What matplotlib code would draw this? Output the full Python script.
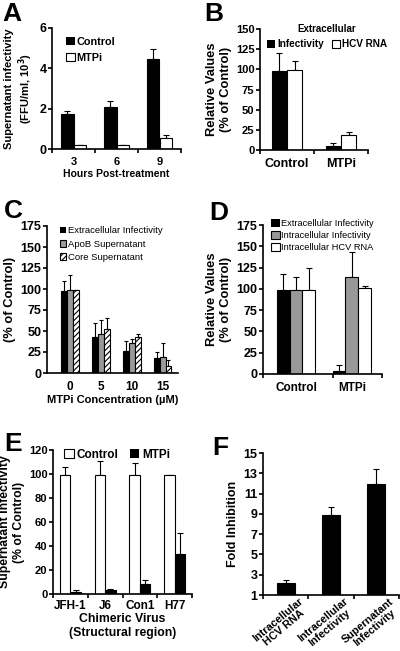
import matplotlib
matplotlib.use("Agg")
import matplotlib.pyplot as plt
import matplotlib.transforms as mtrans
import numpy as np

plt.rcParams['font.family'] = ['Liberation Sans', 'DejaVu Sans']
plt.rcParams['font.weight'] = 'bold'
plt.rcParams['axes.labelweight'] = 'bold'
plt.rcParams['hatch.linewidth'] = 0.8

# A
a_hours = ['3', '6', '9']
a_ctrl = [1.75, 2.1, 4.45]
a_ctrl_err = [0.15, 0.3, 0.5]
a_mtp = [0.2, 0.2, 0.55]
a_mtp_err = [0.02, 0.02, 0.15]

# B
b_groups = ['Control', 'MTPi']
b_inf = [98, 5]
b_inf_err = [22, 4]
b_rna = [99, 19]
b_rna_err = [11, 3]

# C
c_conc = ['0', '5', '10', '15']
c_inf = [98, 43, 26, 18]
c_inf_err = [12, 16, 12, 7]
c_apob = [99, 46, 36, 19]
c_apob_err = [18, 17, 4, 17]
c_core = [99, 52, 43, 8]
c_core_err = [0, 14, 3, 7]

# D
d_groups = ['Control', 'MTPi']
d_ext = [99, 4]
d_ext_err = [18, 6]
d_intinf = [99, 114]
d_intinf_err = [15, 29]
d_intrna = [99, 101]
d_intrna_err = [26, 2]

# E
e_virus = ['JFH-1', 'J6', 'Con1', 'H77']
e_ctrl = [99, 99, 99, 99]
e_ctrl_err = [7, 12, 10, 0.5]
e_mtp = [1.5, 3.5, 8, 33]
e_mtp_err = [1.5, 0.5, 4, 18]

# F
f_labels = ['Intracellular\nHCV RNA', 'Intracellular\nInfectivity', 'Supernatant\nInfectivity']
f_vals = [2.2, 8.9, 11.9]
f_err = [0.25, 0.75, 1.5]

W, H = 400, 651
fig = plt.figure(figsize=(W / 100, H / 100), dpi=100)


def make_ax(l, r, t, b):
    ax = fig.add_axes([l / W, 1 - b / H, (r - l) / W, (b - t) / H])
    for s in ['top', 'right']:
        ax.spines[s].set_visible(False)
    for s in ['left', 'bottom']:
        ax.spines[s].set_linewidth(1.2)
    ax.tick_params(axis='y', labelsize=8, width=1.2, length=3, pad=1)
    ax.tick_params(axis='x', which='both', labelsize=8, width=1.2, length=3)
    return ax


def cat_ticks(ax, n, lo=-0.5, hi=None):
    if hi is None:
        hi = n - 0.5
    ax.set_xlim(lo, hi)
    ax.set_xticks(np.arange(n))
    ax.tick_params(axis='x', which='major', length=0, pad=6)
    ax.set_xticks(np.arange(n + 1) - 0.5, minor=True)


def bars(ax, x, vals, err, w, color, hatch=None, cap=2, bottom=0):
    vals = np.asarray(vals, dtype=float)
    ax.bar(x, vals - bottom, w, bottom=bottom, color=color, edgecolor='black',
           linewidth=0.8, hatch=hatch, zorder=2)
    ax.errorbar(x, vals, yerr=[np.zeros(len(vals)), err], fmt='none', ecolor='black',
                elinewidth=0.8, capsize=cap, capthick=0.8, zorder=1)


def letter(x, y, s):
    fig.text(x / W, 1 - y / H, s, fontsize=19, fontweight='bold', va='top', ha='left')


def bold_ticks(ax):
    for t in ax.get_xticklabels() + ax.get_yticklabels():
        t.set_fontweight('bold')


# ---- A ----
ax = make_ax(52, 181, 28, 149)
x = np.arange(3)
bars(ax, x - 0.14, a_ctrl, a_ctrl_err, 0.28, 'black')
bars(ax, x + 0.14, a_mtp, a_mtp_err, 0.28, 'white')
cat_ticks(ax, 3)
ax.set_xticklabels(a_hours)
ax.set_ylim(0, 6)
ax.set_yticks([0, 2, 4, 6])
ax.tick_params(axis='y', labelsize=9)
ax.set_ylabel('Supernatant infectivity\n(FFU/ml, 10$^\\mathbf{3}$)', fontsize=8, labelpad=3)
ax.set_xlabel('Hours Post-treatment', fontsize=7.5, labelpad=1)
ax.bar([0], [0], color='black', label='Control')
ax.bar([0], [0], color='white', edgecolor='black', linewidth=0.8, label='MTPi')
ax.legend(loc='upper left', bbox_to_anchor=(0.07, 0.97), frameon=False, fontsize=7.8,
          handlelength=0.8, handleheight=0.8, handletextpad=0.15, labelspacing=0.55, borderpad=0)
bold_ticks(ax)
letter(2, 2, 'A')

# ---- B ----
ax = make_ax(260, 368, 29, 150)
x = np.arange(2)
bars(ax, x - 0.14, b_inf, b_inf_err, 0.28, 'black')
bars(ax, x + 0.14, b_rna, b_rna_err, 0.28, 'white')
cat_ticks(ax, 2)
ax.set_xticklabels(b_groups, fontsize=9)
ax.tick_params(axis='x', which='minor', length=3)
ax.set_ylim(0, 150)
ax.set_yticks(range(0, 151, 25))
ax.set_ylabel('Relative Values\n(% of Control)', fontsize=9.3, labelpad=3)
ax.bar([0], [0], color='black', label='Infectivity')
ax.bar([0], [0], color='white', edgecolor='black', linewidth=0.8, label='HCV RNA')
ax.legend(loc='upper center', bbox_to_anchor=(0.62, 1.08), frameon=False, fontsize=7.2,
          ncol=2, title='Extracellular', title_fontproperties={'size': 7, 'weight': 'bold'},
          handlelength=0.8, handleheight=0.8, handletextpad=0.2, columnspacing=0.8, borderpad=0)
bold_ticks(ax)
letter(204, 2, 'B')

# ---- C ----
ax = make_ax(47, 178, 226, 373)
x = np.arange(4)
bars(ax, x - 0.19, c_inf, c_inf_err, 0.19, 'black', cap=1.5)
bars(ax, x, c_apob, c_apob_err, 0.19, '#999999', cap=1.5)
bars(ax, x + 0.19, c_core, c_core_err, 0.19, 'white', hatch='//////', cap=1.5)
cat_ticks(ax, 4, -0.75, 3.5)
ax.tick_params(axis='x', which='minor', length=0)
ax.set_xticklabels(c_conc, fontsize=8.5)
ax.set_ylim(0, 175)
ax.set_yticks(range(0, 176, 25))
ax.tick_params(axis='y', labelsize=9)
ax.set_ylabel('Relative Values\n(% of Control)', fontsize=9.3, labelpad=3)
ax.set_xlabel('MTPi Concentration (\u00b5M)', fontsize=8, labelpad=1)
ax.bar([0], [0], color='black', label='Extracellular Infectivity')
ax.bar([0], [0], color='#999999', edgecolor='black', linewidth=0.8, label='ApoB Supernatant')
ax.bar([0], [0], color='white', edgecolor='black', linewidth=0.8, hatch='//////', label='Core Supernatant')
leg = ax.legend(loc='upper left', bbox_to_anchor=(0.06, 1.03), frameon=False, fontsize=6.8,
                handlelength=0.7, handleheight=0.7, handletextpad=0.2, labelspacing=0.45, borderpad=0)
for t in leg.get_texts():
    t.set_fontweight('normal')
bold_ticks(ax)
letter(4, 199, 'C')

# ---- D ----
ax = make_ax(263, 382, 225, 374)
x = np.arange(2)
bars(ax, x - 0.23, d_ext, d_ext_err, 0.23, 'black')
bars(ax, x, d_intinf, d_intinf_err, 0.23, '#999999')
bars(ax, x + 0.23, d_intrna, d_intrna_err, 0.23, 'white')
cat_ticks(ax, 2, -0.59, 1.54)
ax.set_xticks([-0.59, 0.66, 1.54], minor=True)
ax.set_xticklabels(d_groups, fontsize=8.5)
ax.set_ylim(0, 175)
ax.set_yticks(range(0, 176, 25))
ax.tick_params(axis='y', labelsize=9)
ax.set_ylabel('Relative Values\n(% of Control)', fontsize=9.3, labelpad=3)
ax.bar([0], [0], color='black', label='Extracellular Infectivity')
ax.bar([0], [0], color='#999999', edgecolor='black', linewidth=0.8, label='Intracellular Infectivity')
ax.bar([0], [0], color='white', edgecolor='black', linewidth=0.8, label='Intracellular HCV RNA')
leg = ax.legend(loc='upper left', bbox_to_anchor=(0.03, 1.07), frameon=False, fontsize=6.7,
                handlelength=0.9, handleheight=0.9, handletextpad=0.2, labelspacing=0.3, borderpad=0)
for t in leg.get_texts():
    t.set_fontweight('normal')
bold_ticks(ax)
letter(209, 201, 'D')

# ---- E ----
ax = make_ax(53, 192, 450, 594)
x = np.arange(4)
bars(ax, x - 0.15, e_ctrl, e_ctrl_err, 0.3, 'white')
bars(ax, x + 0.15, e_mtp, e_mtp_err, 0.3, 'black')
cat_ticks(ax, 4)
ax.set_xticklabels(e_virus, fontsize=8.5)
ax.tick_params(axis='x', which='major', pad=4)
ax.set_ylim(0, 120)
ax.set_yticks(range(0, 121, 20))
ax.set_ylabel('Supernatant Infectivity\n(% of Control)', fontsize=8.8, labelpad=3)
ax.set_xlabel('Chimeric Virus\n(Structural region)', fontsize=8.8, labelpad=1)
ax.bar([0], [0], color='white', edgecolor='black', linewidth=0.8, label='Control')
ax.bar([0], [0], color='black', label='MTPi')
ax.legend(loc='upper left', bbox_to_anchor=(0.04, 1.05), frameon=False, fontsize=8.5, ncol=2,
          handlelength=0.8, handleheight=0.8, handletextpad=0.2, columnspacing=1.0, borderpad=0)
bold_ticks(ax)
letter(4, 432, 'E')

# ---- F ----
ax = make_ax(263, 399, 453, 595)
x = np.arange(3)
bars(ax, x, f_vals, f_err, 0.4, 'black', cap=2.5, bottom=1)
cat_ticks(ax, 3)
ax.set_xticklabels(f_labels, rotation=40, ha='right', va='top', rotation_mode='anchor',
                   fontsize=7.8, multialignment='center', linespacing=0.95)
ax.tick_params(axis='x', which='major', pad=1)
shift = mtrans.ScaledTranslation(13 / 100, 0, fig.dpi_scale_trans)
for t in ax.get_xticklabels():
    t.set_transform(t.get_transform() + shift)
ax.set_ylim(1, 15)
ax.set_yticks(range(1, 16, 2))
ax.tick_params(axis='y', labelsize=9)
ax.set_ylabel('Fold Inhibition', fontsize=9, labelpad=3)
bold_ticks(ax)
letter(212, 436, 'F')

fig.savefig('out.png', dpi=100)
